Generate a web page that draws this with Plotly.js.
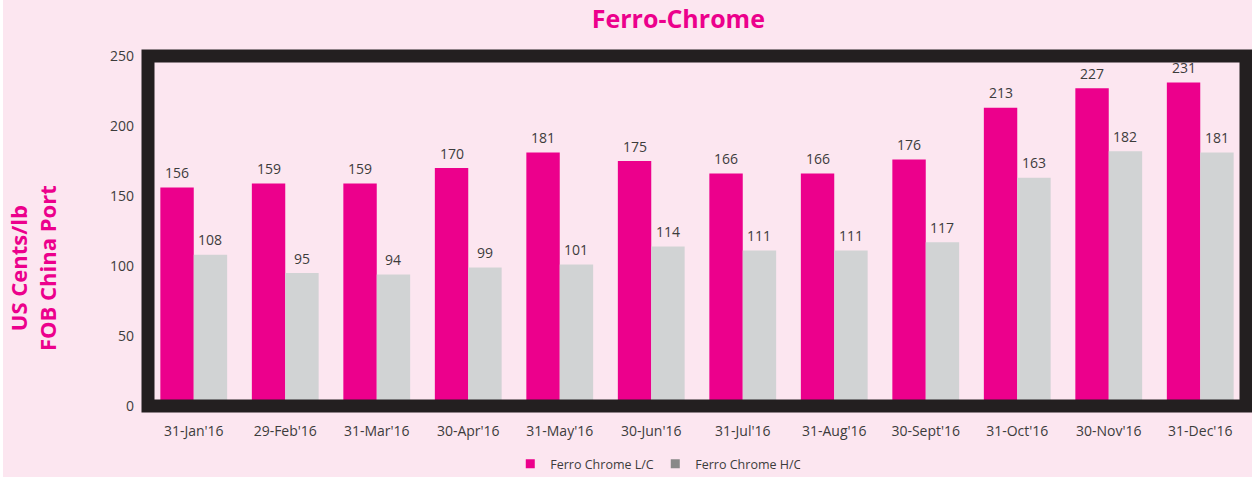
<!DOCTYPE html>
<html>
<head>
<meta charset="utf-8">
<script src="https://cdn.plot.ly/plotly-3.0.1.min.js"></script>
<style>
html,body{margin:0;padding:0;background:#ffffff;}
#chart{position:absolute;left:3px;top:0;width:1249px;height:477px;}
</style>
</head>
<body>
<div id="chart"></div>
<script>
const categories = ["31-Jan'16","29-Feb'16","31-Mar'16","30-Apr'16","31-May'16","30-Jun'16","31-Jul'16","31-Aug'16","30-Sept'16","31-Oct'16","30-Nov'16","31-Dec'16"];
const lowCarbon = [156,159,159,170,181,175,166,166,176,213,227,231];
const highCarbon = [108,95,94,99,101,114,111,111,117,163,182,181];
const seriesNames = ["Ferro Chrome L/C","Ferro Chrome H/C"];
const yTicks = [0,50,100,150,200,250];

const PINK = '#ec008c', GRAY = '#d1d3d4', GRAY_LEG = '#898989', TXT = '#3c3c3c';
const FONT = 'Open Sans, sans-serif';

const traces = [
  {type:'bar', x:categories, y:lowCarbon, name:seriesNames[0], marker:{color:PINK}, showlegend:false, hoverinfo:'x+y'},
  {type:'bar', x:categories, y:highCarbon, name:seriesNames[1], marker:{color:GRAY}, showlegend:false, hoverinfo:'x+y'},
  {type:'scatter', mode:'markers', x:[null], y:[null], name:seriesNames[0], marker:{symbol:'square', size:9, color:PINK}},
  {type:'scatter', mode:'markers', x:[null], y:[null], name:seriesNames[1], marker:{symbol:'square', size:9, color:GRAY_LEG}}
];

const annotations = [];
const half = 16.7;
categories.forEach((c,i)=>{
  annotations.push({x:c, y:lowCarbon[i], xref:'x', yref:'y', text:String(lowCarbon[i]), showarrow:false, xshift:-half, yshift:15, yanchor:'middle', font:{family:FONT, size:14, color:TXT}});
  annotations.push({x:c, y:highCarbon[i], xref:'x', yref:'y', text:String(highCarbon[i]), showarrow:false, xshift:half, yshift:15, yanchor:'middle', font:{family:FONT, size:14, color:TXT}});
});
annotations.push({xref:'paper', yref:'paper', x:(32-148)/1098, y:(406-268)/350, xanchor:'center', yanchor:'middle', textangle:-90, showarrow:false,
  text:'<b>US Cents/lb<br>FOB China Port</b>', font:{family:FONT, size:22, color:PINK}});

const layout = {
  width:1249, height:477,
  paper_bgcolor:'#fce6f0', plot_bgcolor:'#fce6f0',
  margin:{l:145, r:6, t:56, b:71, pad:0},
  font:{family:FONT, color:TXT, size:13},
  title:{text:'<b>Ferro-Chrome</b>', font:{family:FONT, size:25, color:PINK}, x:0.483, xref:'paper', y:1-19/477, yref:'container', yanchor:'middle', xanchor:'center', automargin:false},
  barmode:'group', bargap:0.27, bargroupgap:0,
  xaxis:{type:'category', showgrid:false, zeroline:false, showline:false, ticks:'', tickfont:{family:FONT, size:14, color:TXT}, ticklabelstandoff:15, fixedrange:true, automargin:false},
  yaxis:{range:[0,250], tickvals:yTicks, showgrid:false, zeroline:false, showline:false, ticks:'', tickfont:{family:FONT, size:14, color:TXT}, ticklabelstandoff:13, fixedrange:true, automargin:false},
  shapes:[{type:'rect', xref:'paper', yref:'paper', x0:0, x1:1, y0:0, y1:1, line:{color:'#231f20', width:13}, layer:'above'}],
  legend:{orientation:'h', x:0.462, xanchor:'center', xref:'paper', y:(477-464)/477, yref:'container', yanchor:'middle', font:{family:FONT, size:12.5, color:TXT}, bgcolor:'rgba(0,0,0,0)', itemwidth:30, tracegroupgap:0, entrywidth:100, entrywidthmode:'pixels'},
  annotations:annotations,
  showlegend:true
};

Plotly.newPlot('chart', traces, layout, {displayModeBar:false, staticPlot:true});
</script>
</body>
</html>
